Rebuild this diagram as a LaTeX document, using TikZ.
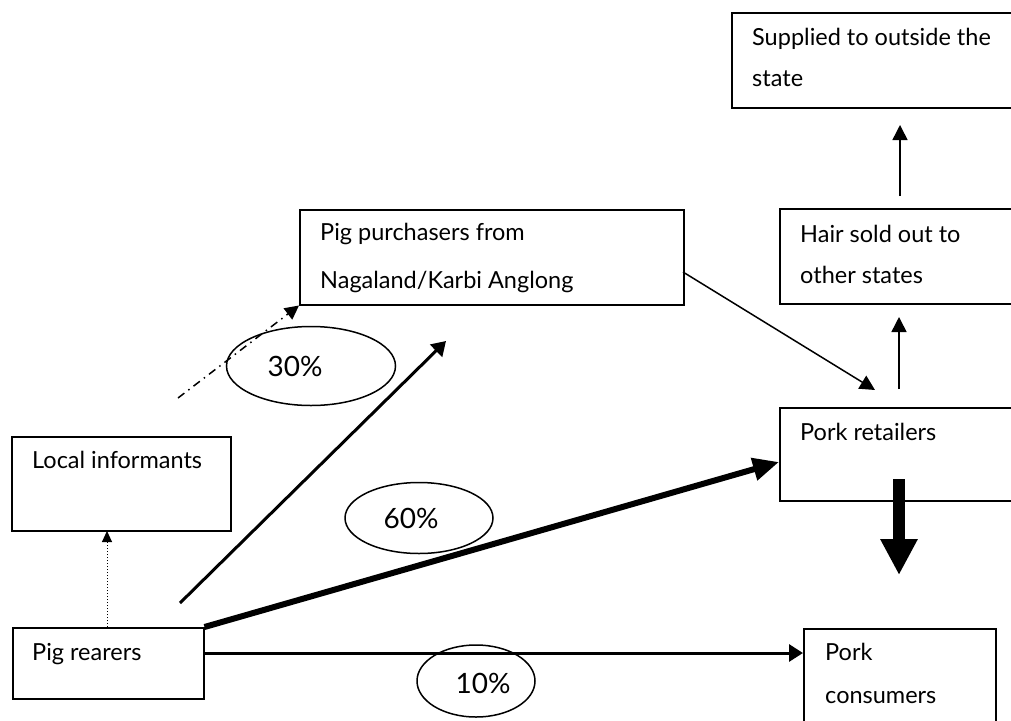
\documentclass[tikz,border=0pt]{standalone}
\usepackage{fontspec}
\setmainfont{Lato}
\usetikzlibrary{arrows.meta,shapes.geometric,calc}
\begin{document}
\begin{tikzpicture}[x=1pt,y=-1pt,
  box/.style={draw, line width=1.5pt, rectangle, inner sep=0pt, anchor=north west},
  txt/.style={anchor=base west, inner sep=0pt, font=\fontsize{23.5}{28}\selectfont},
  pct/.style={anchor=base, inner sep=0pt, font=\fontsize{28}{32}\selectfont},
  oval/.style={draw, ellipse, line width=1.5pt, inner sep=0pt},
  thinarrow/.style={line width=1.5pt, -{Triangle[length=15pt,width=15pt]}},
  midarrow/.style={line width=3pt, -{Triangle[length=14pt,width=17pt]}},
  bigarrow/.style={line width=6pt, -{Triangle[length=26pt,width=22pt]}},
  blockarrow/.style={line width=12pt, -{Triangle[length=36pt,width=35pt]}},
  dotarrow/.style={line width=1pt, dotted, -{Triangle[length=11pt,width=10pt]}},
  dasharrow/.style={line width=1.5pt, dash pattern=on 8pt off 5pt on 1.5pt off 5pt, -{Triangle[length=14pt,width=14pt]}}
]
\useasboundingbox (0,0) rectangle (1011,720);
\clip (0,0) rectangle (1011,720);

% boxes
\node[box, minimum width=300pt, minimum height=95pt] (sup) at (731,12) {};
\node[box, minimum width=260pt, minimum height=95pt] (hair) at (779,208) {};
\node[box, minimum width=384pt, minimum height=95pt] (purch) at (299,209) {};
\node[box, minimum width=260pt, minimum height=93pt] (ret) at (779,407) {};
\node[box, minimum width=192pt, minimum height=100pt] (cons) at (803,628) {};
\node[box, minimum width=219pt, minimum height=94pt] (loc) at (11,436) {};
\node[box, minimum width=191pt, minimum height=71pt] (rear) at (12,627) {};

% texts
\node[txt] (t1) at (752,45) {Supplied to outside the};
\node[txt] (t2) at (752,86) {state};
\node[txt] (t3) at (800,242) {Hair sold out to};
\node[txt] (t4) at (800,283) {other states};
\node[txt] (t5) at (320,240) {Pig purchasers from};
\node[txt] (t6) at (320,288) {Nagaland/Karbi Anglong};
\node[txt] (t7) at (800,440) {Pork retailers};
\node[txt] (t8) at (32,468) {Local informants};
\node[txt] (t9) at (32,660) {Pig rearers};
\node[txt] (t10) at (825,660) {Pork};
\node[txt] (t11) at (825,703) {consumers};

% ellipses
\node[oval, minimum width=169pt, minimum height=79pt] (e30) at (311,366) {};
\node[oval, minimum width=148pt, minimum height=71pt] (e60) at (419,518) {};
\node[oval, minimum width=118pt, minimum height=72pt] (e10) at (476,681) {};
\node[pct] (p30) at (295,376) {30\%};
\node[pct] (p60) at (411,528) {60\%};
\node[pct] (p10) at (483,693) {10\%};

% coordinates for free ends
\coordinate (hairtop) at (900,196);
\coordinate (suptip) at (900,125);
\coordinate (rettop) at (899,389);
\coordinate (hairtip) at (899,317);
\coordinate (purchout) at (683,272);
\coordinate (rettip) at (875,390);
\coordinate (rearout) at (180,603);
\coordinate (purchtip) at (446,341);
\coordinate (dashstart) at (178,398);
\coordinate (reartop) at (107,627);
\coordinate (locbot) at (107,531);
\coordinate (retin) at (779,462);
\coordinate (rearmid) at (203,653);
\coordinate (consin) at (803,653);
\coordinate (downstart) at (899,479);
\coordinate (downtip) at (899,575);

% connectors
\draw[thinarrow] (hairtop) -- (suptip);
\draw[thinarrow] (rettop) -- (hairtip);
\draw[thinarrow] (purchout) -- (rettip);
\draw[midarrow] (rearout) -- (purchtip);
\draw[dasharrow] (dashstart) -- (purch.south west);
\draw[dotarrow] (reartop) -- (locbot);
\draw[bigarrow] (rear.north east) -- (retin);
\draw[midarrow] (rearmid) -- (consin);
\draw[blockarrow] (downstart) -- (downtip);
\end{tikzpicture}
\end{document}
